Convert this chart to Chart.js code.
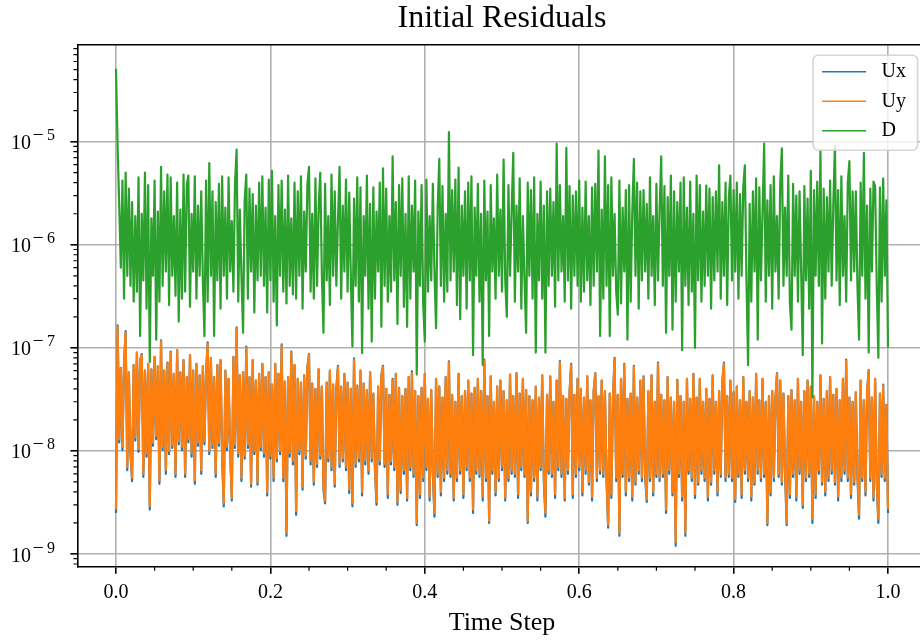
<!DOCTYPE html>
<html>
<head>
<meta charset="utf-8">
<title>Initial Residuals</title>
<script src="https://cdn.jsdelivr.net/npm/chart.js@4.4.0/dist/chart.umd.min.js"></script>
<style>
  html, body { margin: 0; padding: 0; background: #fff; overflow: hidden; }
  canvas { display: block; }
</style>
</head>
<body>
<canvas id="residuals" width="940" height="642"></canvas>
<script>
// initial residuals, one value per time step
// Ux and Uy are stored in units of 1e-10, D in units of 1e-8
var ux = [
  25, 1650, 121, 640, 102, 720, 1450, 65, 580, 93, 51, 680, 126, 900, 98, 760, 870, 56, 600, 88,
  700, 27, 620, 112, 820, 130, 660, 48, 1180, 102, 600, 60, 720, 93, 920, 107, 560, 56, 950, 116,
  580, 102, 760, 56, 520, 121, 850, 88, 600, 48, 700, 112, 540, 60, 660, 116, 580, 1130, 93, 800,
  107, 520, 56, 680, 112, 760, 84, 29, 600, 102, 500, 93, 33, 820, 107, 1580, 88, 540, 51, 580,
  84, 1030, 107, 520, 45, 760, 93, 480, 47, 560, 102, 700, 88, 520, 37, 580, 84, 440, 51, 700,
  79, 560, 93, 1080, 51, 470, 15, 520, 88, 920, 74, 680, 24, 500, 93, 460, 42, 540, 84, 650,
  870, 74, 450, 47, 400, 70, 620, 84, 420, 42, 31, 460, 79, 600, 65, 440, 45, 400, 670, 70,
  420, 79, 560, 65, 460, 39, 400, 29, 790, 70, 430, 79, 600, 37, 450, 74, 390, 60, 580, 79,
  360, 65, 30, 420, 74, 540, 670, 70, 400, 35, 350, 74, 500, 65, 560, 30, 410, 39, 340, 60,
  400, 33, 520, 65, 590, 56, 380, 19, 340, 35, 410, 51, 560, 65, 320, 33, 390, 60, 23, 500,
  56, 420, 37, 330, 51, 520, 60, 740, 56, 350, 33, 300, 51, 560, 60, 340, 35, 380, 65, 480,
  51, 360, 25, 410, 60, 500, 56, 380, 33, 770, 51, 340, 20, 530, 60, 300, 37, 420, 51, 480,
  65, 380, 33, 310, 51, 550, 60, 340, 56, 570, 35, 360, 65, 500, 56, 390, 20, 340, 37, 310,
  51, 420, 33, 330, 65, 540, 51, 23, 350, 60, 530, 56, 300, 35, 480, 65, 750, 56, 340, 33,
  320, 60, 370, 700, 35, 350, 56, 500, 65, 400, 37, 330, 60, 530, 47, 310, 33, 380, 570, 51,
  340, 60, 480, 56, 380, 51, 18, 360, 35, 330, 800, 51, 350, 15, 500, 56, 700, 37, 320, 51,
  360, 33, 670, 47, 330, 60, 480, 51, 530, 56, 32, 380, 51, 540, 37, 300, 56, 720, 51, 350,
  56, 310, 25, 520, 60, 330, 37, 300, 12, 490, 56, 340, 33, 300, 15, 500, 60, 320, 51, 560,
  35, 330, 47, 500, 60, 300, 51, 400, 33, 320, 47, 540, 60, 300, 37, 380, 56, 480, 720, 51,
  340, 56, 480, 51, 370, 32, 420, 56, 310, 35, 520, 60, 300, 51, 380, 33, 330, 47, 560, 60,
  310, 51, 500, 56, 300, 19, 340, 37, 380, 51, 320, 570, 56, 480, 47, 360, 60, 19, 340, 35,
  390, 56, 310, 33, 500, 60, 300, 28, 380, 51, 480, 56, 420, 20, 340, 35, 300, 60, 540, 47,
  320, 37, 380, 51, 520, 60, 350, 47, 400, 33, 310, 51, 500, 60, 770, 51, 330, 35, 300, 47,
  370, 56, 22, 480, 51, 310, 37, 380, 610, 51, 330, 33, 500, 47, 20, 360, 56, 440, 51, 280,
  25
];
var uy = [
  27, 1600, 130, 640, 110, 720, 1400, 70, 580, 100, 55, 680, 135, 900, 105, 760, 850, 60, 600, 95,
  700, 29, 620, 120, 820, 140, 660, 52, 1150, 110, 600, 65, 720, 100, 900, 115, 560, 60, 950, 125,
  580, 110, 760, 60, 520, 130, 850, 95, 600, 52, 700, 120, 540, 65, 660, 125, 580, 1100, 100, 800,
  115, 520, 60, 680, 120, 760, 90, 31, 600, 110, 500, 100, 35, 820, 115, 1550, 95, 540, 55, 580,
  90, 1000, 115, 520, 48, 760, 100, 480, 50, 560, 110, 700, 95, 520, 40, 580, 90, 440, 55, 700,
  85, 560, 100, 1050, 55, 470, 16, 520, 95, 900, 80, 680, 26, 500, 100, 460, 45, 540, 90, 650,
  850, 80, 450, 50, 400, 75, 620, 90, 420, 45, 33, 460, 85, 600, 70, 440, 48, 400, 650, 75,
  420, 85, 560, 70, 460, 42, 400, 31, 760, 75, 430, 85, 600, 40, 450, 80, 390, 65, 580, 85,
  360, 70, 32, 420, 80, 540, 650, 75, 400, 38, 350, 80, 490, 70, 560, 32, 410, 42, 340, 65,
  400, 35, 520, 70, 570, 60, 380, 20, 340, 38, 410, 55, 560, 70, 320, 36, 390, 65, 25, 500,
  60, 420, 40, 330, 55, 520, 65, 720, 60, 350, 35, 300, 55, 560, 65, 340, 38, 380, 70, 480,
  55, 360, 27, 410, 65, 500, 60, 380, 36, 750, 55, 340, 21, 530, 65, 300, 40, 420, 55, 480,
  70, 380, 35, 310, 55, 550, 65, 340, 60, 560, 38, 360, 70, 500, 60, 390, 21, 340, 40, 310,
  55, 420, 36, 330, 70, 540, 55, 25, 350, 65, 520, 60, 300, 38, 480, 70, 730, 60, 340, 35,
  320, 65, 370, 680, 38, 350, 60, 500, 70, 400, 40, 330, 65, 530, 50, 310, 36, 380, 560, 55,
  340, 65, 480, 60, 380, 55, 19, 360, 38, 330, 780, 55, 350, 16, 500, 60, 680, 40, 320, 55,
  360, 36, 650, 50, 330, 65, 480, 55, 520, 60, 34, 380, 55, 540, 40, 300, 60, 700, 55, 350,
  60, 310, 27, 520, 65, 330, 40, 300, 13, 480, 60, 340, 36, 300, 16, 500, 65, 320, 55, 560,
  38, 330, 50, 500, 65, 300, 55, 400, 36, 320, 50, 540, 65, 300, 40, 380, 60, 480, 700, 55,
  340, 60, 480, 55, 370, 34, 420, 60, 310, 38, 520, 65, 300, 55, 380, 36, 330, 50, 560, 65,
  310, 55, 500, 60, 300, 20, 340, 40, 380, 55, 320, 560, 60, 480, 50, 360, 65, 20, 340, 38,
  390, 60, 310, 36, 500, 65, 300, 30, 380, 55, 480, 60, 420, 22, 340, 38, 300, 65, 540, 50,
  320, 40, 380, 55, 520, 65, 350, 50, 400, 36, 310, 55, 500, 65, 750, 55, 330, 38, 300, 50,
  370, 60, 24, 480, 55, 310, 40, 380, 600, 55, 330, 36, 500, 50, 22, 360, 60, 430, 55, 280,
  27
];
var d = [
  5100, 900, 240, 60, 420, 30, 500, 50, 350, 40, 260, 28, 190, 35, 450, 13, 200, 45, 500, 24,
  380, 7.3, 180, 50, 420, 12, 210, 28, 570, 40, 330, 55, 480, 26, 450, 50, 190, 32, 400, 18,
  220, 30, 480, 35, 380, 470, 25, 200, 55, 460, 30, 240, 50, 330, 45, 13, 420, 28, 620, 50,
  330, 13, 260, 45, 390, 24, 460, 50, 230, 30, 450, 55, 170, 35, 400, 840, 28, 220, 50, 14,
  270, 480, 30, 350, 55, 310, 22, 240, 45, 400, 50, 460, 40, 230, 22, 430, 45, 520, 28, 190,
  16.5, 380, 50, 420, 35, 220, 27, 470, 40, 180, 33, 400, 30, 330, 50, 460, 24, 210, 55, 390,
  570, 35, 200, 30, 440, 40, 230, 500, 50, 14, 390, 45, 190, 26, 480, 50, 330, 40, 170, 570,
  30, 240, 55, 430, 35, 320, 50, 10.3, 280, 40, 450, 28, 360, 8.9, 190, 50, 470, 24, 250, 11.5,
  360, 30, 210, 55, 400, 16, 550, 40, 350, 28, 190, 35, 720, 45, 260, 17, 380, 50, 440, 25,
  200, 16, 460, 30, 240, 55, 420, 5.5, 210, 40, 380, 27, 11.5, 430, 35, 190, 45, 390, 55, 15.5,
  230, 680, 40, 370, 28, 200, 35, 1240, 45, 340, 55, 430, 26, 560, 19, 240, 50, 330, 24, 400,
  45, 460, 8.5, 230, 50, 390, 28, 200, 6.8, 420, 45, 210, 13, 380, 55, 180, 30, 480, 50, 220,
  35, 670, 45, 20, 380, 50, 210, 780, 28, 240, 55, 440, 24, 190, 45, 14, 400, 50, 340, 30,
  450, 9, 200, 45, 410, 30, 240, 9, 330, 40, 350, 50, 260, 25, 960, 45, 380, 55, 190, 28,
  870, 45, 370, 24, 300, 50, 330, 40, 420, 28, 230, 35, 410, 45, 190, 26, 360, 40, 390, 55,
  820, 13, 220, 30, 720, 40, 380, 13, 450, 50, 200, 35, 21, 420, 27, 230, 55, 340, 12, 380,
  28, 210, 680, 50, 400, 24, 330, 45, 340, 55, 250, 30, 450, 50, 190, 26, 390, 45, 220, 720,
  40, 370, 14, 290, 50, 470, 15, 330, 28, 260, 55, 400, 9.5, 450, 40, 230, 26, 410, 35, 200,
  10, 470, 45, 380, 28, 210, 40, 375, 50, 350, 24, 290, 45, 330, 55, 590, 30, 260, 50, 400,
  26, 280, 470, 45, 340, 55, 400, 30, 310, 50, 360, 590, 45, 6.8, 250, 28, 330, 55, 440, 12,
  360, 45, 210, 960, 28, 270, 50, 380, 24, 460, 55, 190, 30, 400, 860, 40, 230, 50, 470, 27,
  15, 390, 50, 300, 28, 330, 55, 8.5, 370, 45, 280, 24, 520, 3.3, 340, 50, 410, 40, 820, 11,
  350, 30, 290, 55, 420, 40, 250, 910, 45, 340, 26, 460, 50, 190, 28, 400, 650, 45, 330, 55,
  330, 40, 12, 400, 50, 780, 30, 240, 9, 350, 55, 410, 370, 40, 8, 360, 28, 440, 50, 270,
  10
];

var xTicks = [0, 0.2, 0.4, 0.6, 0.8, 1.0];
var yTicks = [1e-9, 1e-8, 1e-7, 1e-6, 1e-5];

var serif = '"Liberation Serif", "DejaVu Serif", serif';

// time step runs 0..1 over the run
function toPoints(values, unit) {
  return values.map(function (v, i) {
    return { x: i / (values.length - 1), y: v * unit };
  });
}

// spines on top/right, minor ticks and the 10^n labels
var axesExtras = {
  id: 'axesExtras',
  afterDraw: function (chart) {
    var ctx = chart.ctx, area = chart.chartArea;
    var xs = chart.scales.x, ys = chart.scales.y;
    ctx.save();
    ctx.strokeStyle = '#000';
    ctx.lineWidth = 1.6;
    ctx.beginPath();
    ctx.moveTo(area.left, area.top);
    ctx.lineTo(area.right, area.top);
    ctx.lineTo(area.right, area.bottom);
    ctx.stroke();

    ctx.lineWidth = 1.2;
    ctx.beginPath();
    for (var e = -10; e <= -4; e++) {
      for (var k = 2; k <= 9; k++) {
        var v = k * Math.pow(10, e);
        if (v < ys.min || v > ys.max) continue;
        var py = ys.getPixelForValue(v);
        ctx.moveTo(area.left - 4, py);
        ctx.lineTo(area.left, py);
      }
    }
    for (var i = 1; i < 21; i++) {
      if (i % 4 === 0) continue;
      var px = xs.getPixelForValue(i * 0.05);
      ctx.moveTo(px, area.bottom);
      ctx.lineTo(px, area.bottom + 4);
    }
    ctx.stroke();

    ctx.fillStyle = '#000';
    ctx.textBaseline = 'alphabetic';
    yTicks.forEach(function (t) {
      var py = ys.getPixelForValue(t);
      var digit = String(Math.round(-Math.log10(t)));
      ctx.textAlign = 'right';
      ctx.font = '20px ' + serif;
      ctx.fillText('10', 31, py + 7.5);
      ctx.textAlign = 'left';
      ctx.fillText('\u2212', 32.5, py - 0.5);
      ctx.font = '16px ' + serif;
      ctx.fillText(digit, 47, py - 1.5);
    });
    ctx.restore();
  }
};

// legend box in the upper right corner of the axes
var legendBox = {
  id: 'legendBox',
  afterDraw: function (chart) {
    var ctx = chart.ctx, area = chart.chartArea;
    var w = 104.5, h = 95;
    var left = area.right - 9 - w, top = area.top + 10.5;
    ctx.save();
    ctx.beginPath();
    ctx.roundRect(left, top, w, h, 5);
    ctx.fillStyle = 'rgba(255,255,255,0.8)';
    ctx.fill();
    ctx.strokeStyle = 'rgba(204,204,204,0.8)';
    ctx.lineWidth = 1.6;
    ctx.stroke();
    ctx.font = '20px ' + serif;
    ctx.textAlign = 'left';
    ctx.textBaseline = 'middle';
    chart.data.datasets.forEach(function (ds, i) {
      var y = top + 16.5 + i * 29.5;
      ctx.strokeStyle = ds.borderColor;
      ctx.lineWidth = 1.5;
      ctx.beginPath();
      ctx.moveTo(left + 9, y);
      ctx.lineTo(left + 53, y);
      ctx.stroke();
      ctx.fillStyle = '#000';
      ctx.fillText(ds.label, left + 68.5, y);
    });
    ctx.restore();
  }
};

var ctx = document.getElementById('residuals');
var residualsChart = new Chart(ctx, {
  type: 'line',
  data: {
    datasets: [
      { label: 'Ux', data: toPoints(ux, 1e-10), borderColor: '#1f77b4', order: 3 },
      { label: 'Uy', data: toPoints(uy, 1e-10), borderColor: '#ff7f0e', order: 2 },
      { label: 'D', data: toPoints(d, 1e-8), borderColor: '#2ca02c', order: 1 }
    ]
  },
  options: {
    responsive: false,
    animation: false,
    devicePixelRatio: 1,
    layout: { padding: { left: 0, right: 13.4, top: 0, bottom: 0 } },
    elements: {
      point: { radius: 0 },
      line: { borderWidth: 2.2, tension: 0, fill: false, borderJoinStyle: 'round' }
    },
    scales: {
      x: {
        type: 'linear',
        min: -0.05,
        max: 1.05,
        afterBuildTicks: function (scale) {
          scale.ticks = xTicks.map(function (v) { return { value: v }; });
        },
        afterFit: function (scale) { scale.height = 75.3; },
        ticks: {
          autoSkip: false,
          maxRotation: 0,
          padding: 7.5,
          color: '#000',
          font: { family: serif, size: 20 },
          callback: function (v) { return Number(v).toFixed(1); }
        },
        grid: {
          color: '#b0b0b0',
          lineWidth: 1.6,
          drawTicks: true,
          tickLength: 7,
          tickColor: '#000',
          tickWidth: 1.6
        },
        border: { display: true, color: '#000', width: 1.6 },
        title: {
          display: true,
          text: 'Time Step',
          color: '#000',
          font: { family: serif, size: 26, lineHeight: 1.2 },
          padding: { top: 0, bottom: 3 }
        }
      },
      y: {
        type: 'logarithmic',
        min: 7.53e-10,
        max: 8.72e-5,
        afterBuildTicks: function (scale) {
          scale.ticks = yTicks.map(function (v) { return { value: v, major: true }; });
        },
        afterFit: function (scale) { scale.width = 77.4; },
        ticks: { display: false, autoSkip: false },
        grid: {
          color: '#b0b0b0',
          lineWidth: 1.6,
          drawTicks: true,
          tickLength: 7,
          tickColor: '#000',
          tickWidth: 1.6
        },
        border: { display: true, color: '#000', width: 1.6 }
      }
    },
    plugins: {
      legend: { display: false },
      tooltip: { enabled: false },
      title: {
        display: true,
        text: 'Initial Residuals',
        fullSize: false,
        color: '#000',
        font: { family: serif, size: 32, weight: 'normal', lineHeight: 1 },
        padding: { top: 3, bottom: 9.75 }
      }
    }
  },
  plugins: [axesExtras, legendBox]
});
</script>
</body>
</html>
